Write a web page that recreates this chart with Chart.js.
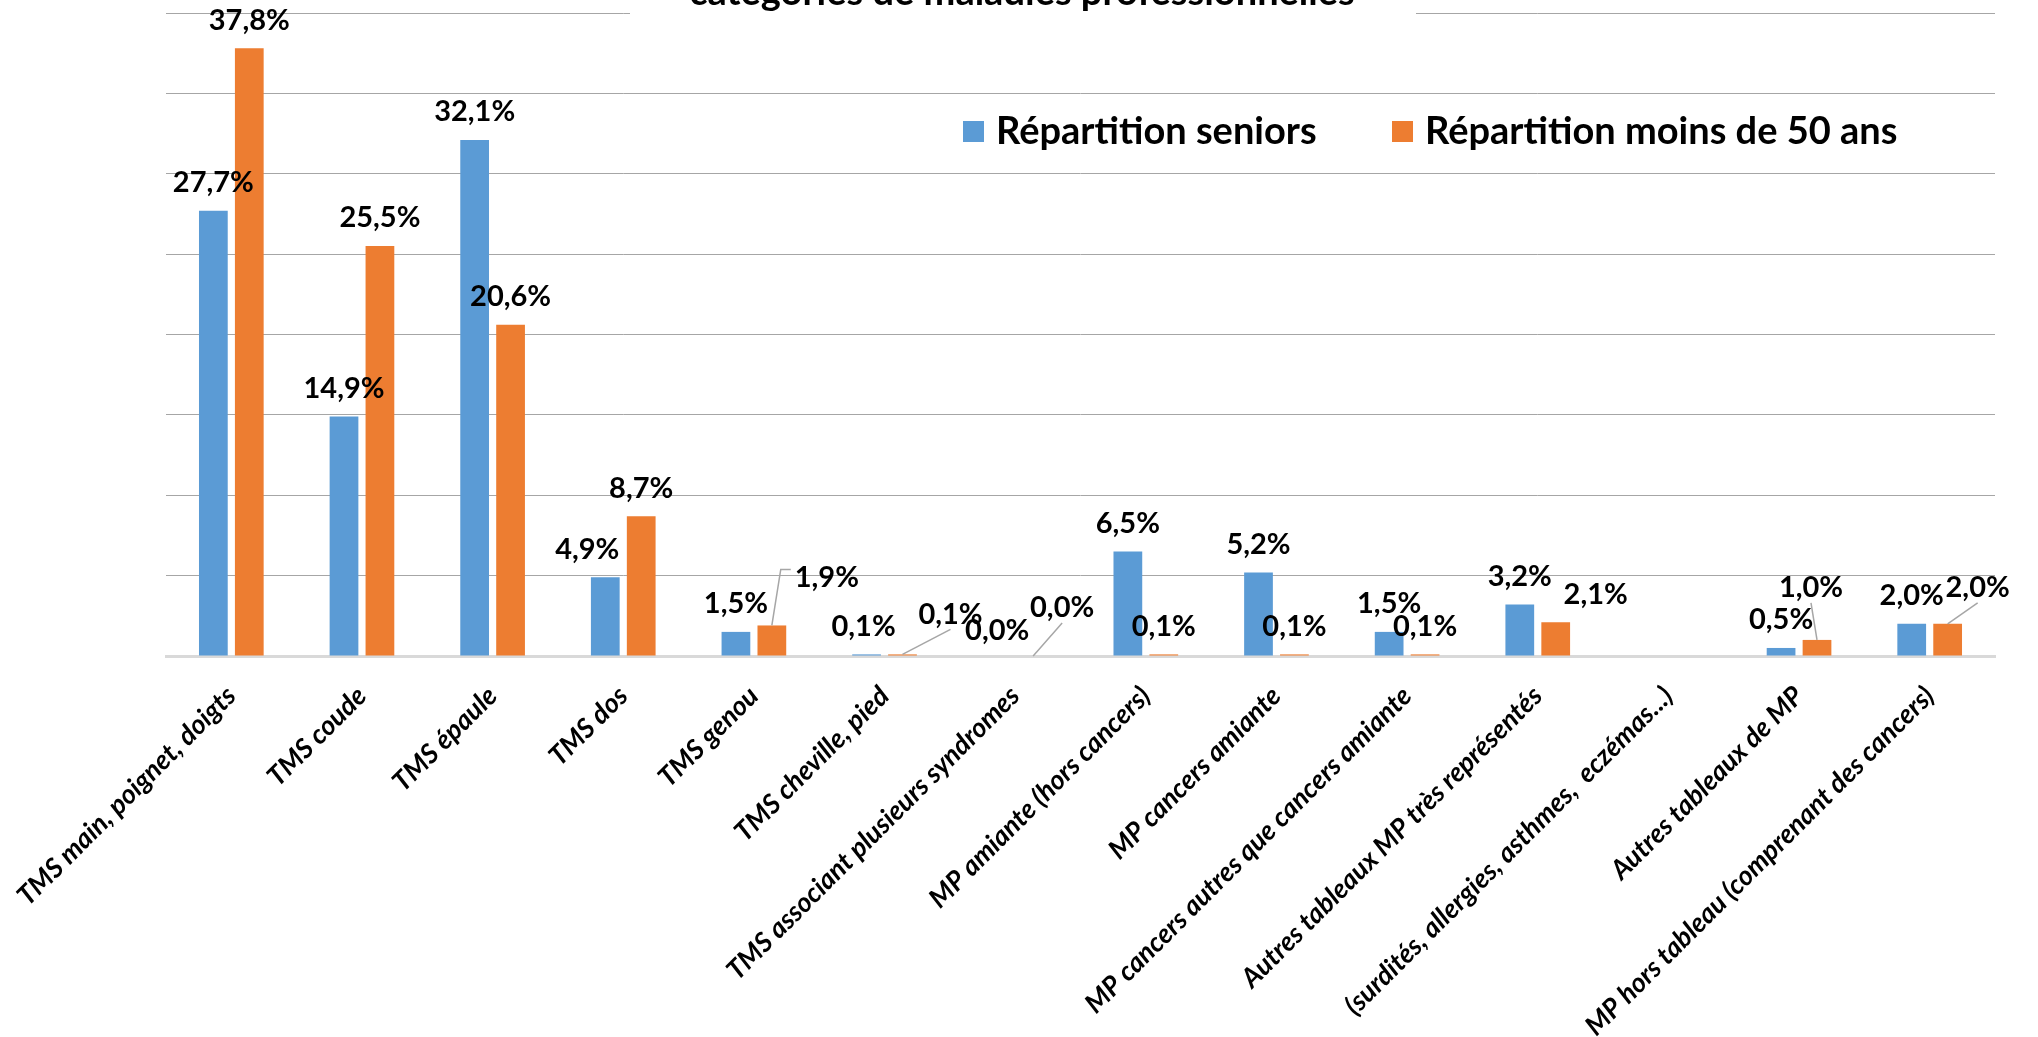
<!DOCTYPE html>
<html lang="fr">
<head>
<meta charset="utf-8">
<script src="https://cdn.jsdelivr.net/npm/chart.js@4.4.1/dist/chart.umd.min.js"></script>
<style>
  html, body { margin: 0; padding: 0; background: #fff; }
</style>
</head>
<body>
<canvas id="chartMP" width="2038" height="1037"></canvas>
<script>
// Données
const categories = [
    "TMS main, poignet, doigts", "TMS coude", "TMS épaule", "TMS dos", "TMS genou",
    "TMS cheville, pied", "TMS associant plusieurs syndromes", "MP amiante (hors cancers)",
    "MP cancers amiante", "MP cancers autres que cancers amiante",
    "Autres tableaux MP très représentés", "(surdités, allergies, asthmes,  eczémas...)",
    "Autres tableaux de MP", "MP hors tableau (comprenant des cancers)"
];
const seniors = [27.7, 14.9, 32.1, 4.9, 1.5, 0.1, 0.0, 6.5, 5.2, 1.5, 3.2, null, 0.5, 2.0];
const moins50 = [37.8, 25.5, 20.6, 8.7, 1.9, 0.1, 0.0, 0.1, 0.1, 0.1, 2.1, null, 1.0, 2.0];
const yTicks = [0, 5, 10, 15, 20, 25, 30, 35, 40];
const seriesNames = ["Répartition seniors", "Répartition moins de 50 ans"];
const titleText = "catégories de maladies professionnelles";

const BLUE = "#5B9BD5";
const ORANGE = "#ED7D31";
const FONT = "Lato";

// décalage des étiquettes (px) comme dans Excel, + trait de rappel
const shiftSeniors = [[0,0],[0,0],[0,0],[-18,0],[0,0],[-3,0],[0,3],[0,0],[0,0],[0,0],[0,0],null,[0,0],[0,0]];
const shiftMoins50 = [[0,0],[0,0],[0,0],[0,0],[55,-20,"left"],[48,-12,"below"],[29,-20,"below"],[0,0],[0,0],[0,0],[40,0],null,[-6,-24,"below"],[30,-8,"below"]];
const shifts = [shiftSeniors, shiftMoins50];

const valueLabels = {
    id: "valueLabels",
    afterDatasetsDraw(chart) {
        const ctx = chart.ctx;
        ctx.save();
        ctx.font = `bold 29px ${FONT}`;
        ctx.textAlign = "center";
        ctx.textBaseline = "middle";
        chart.data.datasets.forEach((ds, i) => {
            chart.getDatasetMeta(i).data.forEach((bar, j) => {
                const v = ds.data[j];
                if (v === null) return;
                const s = shifts[i][j];
                const x = bar.x + s[0];
                const y = bar.y - 28 + s[1];
                const txt = v.toFixed(1).replace(".", ",") + "%";
                const w = ctx.measureText(txt).width;
                if (s[2]) {
                    ctx.strokeStyle = "#a6a6a6";
                    ctx.lineWidth = 1.5;
                    ctx.beginPath();
                    if (s[2] === "left") {
                        ctx.moveTo(x - w / 2 - 4, y - 8);
                        ctx.lineTo(x - w / 2 - 14, y - 8);
                    } else {
                        ctx.moveTo(x, y + 15);
                    }
                    ctx.lineTo(bar.x, bar.y);
                    ctx.stroke();
                }
                ctx.fillStyle = "#000";
                ctx.fillText(txt, x, y);
            });
        });
        ctx.restore();
    }
};

// titre coupé en haut + légende dans la zone du graphique
const titleLegend = {
    id: "titleLegend",
    afterDraw(chart) {
        const ctx = chart.ctx;
        ctx.save();
        ctx.fillStyle = "#fff";
        ctx.fillRect(630, 0, 786, 24);
        ctx.fillStyle = "#000";
        ctx.font = `bold 38px ${FONT}`;
        ctx.textAlign = "center";
        ctx.textBaseline = "alphabetic";
        ctx.fillText(titleText, 1022, 5);

        ctx.font = `bold 38px ${FONT}`;
        ctx.textAlign = "left";
        ctx.textBaseline = "middle";
        const items = [[963, BLUE], [1392, ORANGE]];
        items.forEach((it, k) => {
            ctx.fillStyle = it[1];
            ctx.fillRect(it[0], 121, 21, 21);
            ctx.fillStyle = "#000";
            ctx.fillText(seriesNames[k], it[0] + 33, 132);
        });
        ctx.restore();
    }
};

new Chart(document.getElementById("chartMP"), {
    type: "bar",
    data: {
        labels: categories,
        datasets: [
            { label: seriesNames[0], data: seniors, backgroundColor: BLUE, barPercentage: 0.8, categoryPercentage: 0.55 },
            { label: seriesNames[1], data: moins50, backgroundColor: ORANGE, barPercentage: 0.8, categoryPercentage: 0.55 }
        ]
    },
    options: {
        responsive: false,
        devicePixelRatio: 1,
        animation: false,
        layout: { padding: { left: 166, right: 43, top: 13, bottom: 0 } },
        plugins: { legend: { display: false }, tooltip: { enabled: false } },
        scales: {
            x: {
                grid: { display: false },
                border: { color: "#d9d9d9", width: 3 },
                ticks: {
                    color: "#000",
                    font: { family: FONT, size: 27, weight: "bold", style: "italic" },
                    minRotation: 45, maxRotation: 45, autoSkip: false, padding: 16
                },
                afterFit: s => { s.height = 381; }
            },
            y: {
                min: 0, max: 40,
                afterBuildTicks: s => { s.ticks = yTicks.map(v => ({ value: v })); },
                ticks: { display: false },
                border: { display: false },
                grid: { color: c => c.tick && c.tick.value === 0 ? "rgba(0,0,0,0)" : "#a6a6a6", lineWidth: 1, drawTicks: false },
                afterFit: s => { s.width = 0; }
            }
        }
    },
    plugins: [valueLabels, titleLegend]
});
</script>
</body>
</html>
